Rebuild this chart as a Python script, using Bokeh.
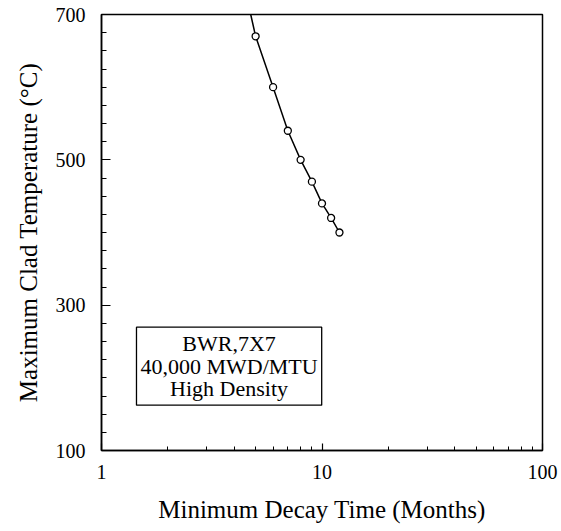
from bokeh.plotting import figure
from bokeh.models import Label, FixedTicker, Range1d
from bokeh.embed import file_html
from bokeh.resources import INLINE

# ---- data ----
decay_months = [5, 6, 7, 8, 9, 10, 11, 12]
clad_temp_c = [670, 600, 540, 500, 470, 440, 420, 400]
curve_start_month = [4.75]
curve_start_temp = [700]
x_ticks = [1, 10, 100]
y_ticks = [100, 300, 500, 700]
box_lines = ["BWR,7X7", "40,000 MWD/MTU", "High Density"]

FONT = "Liberation Serif"

p = figure(width=558, height=531, x_axis_type="log",
           x_range=Range1d(1, 100), y_range=Range1d(100, 700),
           output_backend="svg", toolbar_location=None,
           min_border_left=101, min_border_right=16,
           min_border_top=14, min_border_bottom=81)

p.grid.visible = False
p.outline_line_color = "black"
p.outline_line_width = 1.5
p.background_fill_color = "white"
p.border_fill_color = "white"

line_x = curve_start_month + decay_months
line_y = curve_start_temp + clad_temp_c
p.line(line_x, line_y, line_color="black", line_width=1.5)
p.scatter(decay_months, clad_temp_c, marker="circle", size=7,
          line_color="black", line_width=1.3, fill_color="white")

x_minor = [m * d for d in x_ticks[:-1] for m in range(2, 10)]
p.xaxis.ticker = FixedTicker(ticks=x_ticks, minor_ticks=x_minor)
p.xaxis.major_label_overrides = {t: str(t) for t in x_ticks}
y_minor = list(range(y_ticks[0], y_ticks[-1] + 1, 25))
p.yaxis.ticker = FixedTicker(ticks=y_ticks, minor_ticks=y_minor)

for ax in (p.xaxis, p.yaxis):
    ax.axis_line_color = "black"
    ax.axis_line_width = 1.5
    ax.major_tick_line_color = "black"
    ax.minor_tick_line_color = "black"
    ax.major_tick_line_width = 1.2
    ax.minor_tick_line_width = 1.0
    ax.major_tick_out = 0
    ax.minor_tick_out = 0
    ax.major_label_text_font = FONT
    ax.major_label_text_font_size = "20px"
    ax.major_label_text_color = "black"
    ax.axis_label_text_font = FONT
    ax.axis_label_text_font_style = "normal"
    ax.axis_label_text_color = "black"
    ax.axis_label_text_font_size = "25px"

p.xaxis.major_tick_in = 7
p.xaxis.minor_tick_in = 4
p.yaxis.major_tick_in = 9
p.yaxis.minor_tick_in = 5

p.xaxis.axis_label = "Minimum Decay Time (Months)"
p.xaxis.major_label_standoff = 14
p.xaxis.axis_label_standoff = 14

p.yaxis.axis_label = "Maximum Clad Temperature (°C)"
p.yaxis.major_label_standoff = 16
p.yaxis.axis_label_standoff = 11

box = Label(x=3.79, y=216, text="\n".join(box_lines),
            text_align="center", text_baseline="middle",
            text_font=FONT, text_font_size="22px", text_color="black",
            text_line_height=0.9,
            border_line_color="black", border_line_width=1.3,
            background_fill_color="white", padding=4)
p.add_layout(box)

open("out.html", "w").write(file_html(p, INLINE))
